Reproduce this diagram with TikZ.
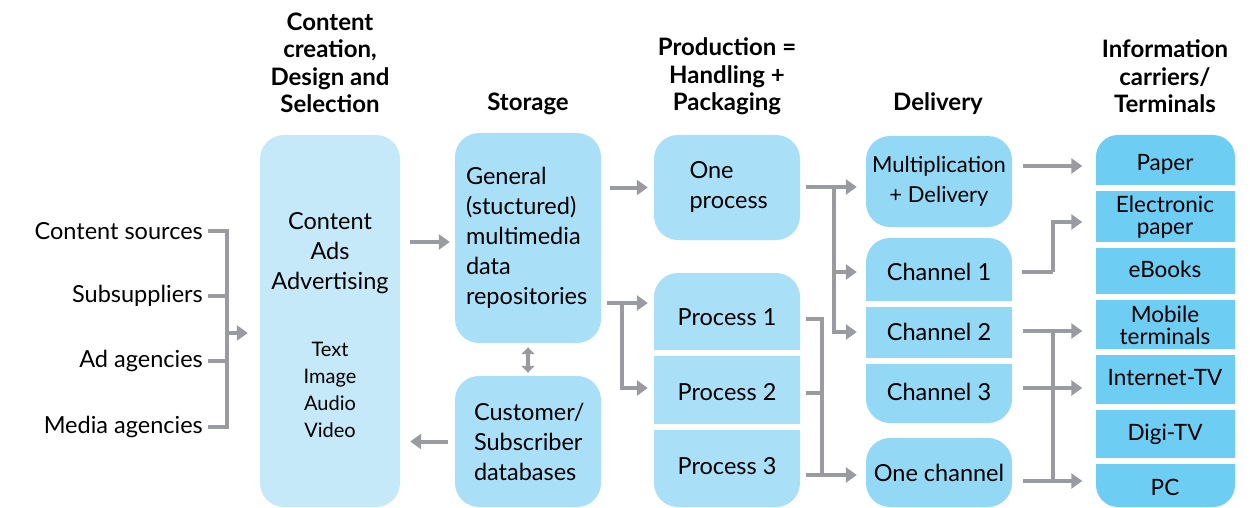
\documentclass[tikz,border=0pt]{standalone}
\usepackage{fontspec}
\setmainfont{Lato}
\usetikzlibrary{arrows.meta}

\definecolor{boxcreate}{RGB}{198,233,249}
\definecolor{boxstore}{RGB}{169,224,248}
\definecolor{boxdeliver}{RGB}{147,216,245}
\definecolor{boxterm}{RGB}{110,205,243}
\definecolor{flowgrey}{RGB}{153,155,160}

\tikzset{
  line/.style={draw=flowgrey, line width=4pt},
  arr/.style={line, -{Triangle[length=11pt,width=15pt]}},
  gap/.style={draw=white, line width=6pt},
  body/.style={inner sep=0pt, font=\fontsize{23.5}{30}\selectfont},
  box/.style={body, rounded corners=24pt, minimum width=146pt},
  seg/.style={body, minimum width=146pt},
  termtext/.style={body, minimum width=139pt, align=center, font=\fontsize{22.5}{22}\selectfont},
  head/.style={inner sep=0pt, align=center, font=\fontsize{24}{27.5}\selectfont\bfseries}
}

\begin{document}
\begin{tikzpicture}[x=1pt,y=-1pt]
\useasboundingbox (0,0) rectangle (1250,508);

% column heads
\node[head] (hcreate) at (330,63) {Content\\creation,\\Design and\\Selection};
\node[head] (hstore) at (528,104) {Storage};
\node[head] (hprod) at (727,76.5) {Production =\\Handling +\\Packaging};
\node[head] (hdeliver) at (938,104) {Delivery};
\node[head] (hterm) at (1165,76.5) {Information\\carriers/\\Terminals};

% sources
\node[body, anchor=east] (src1) at (203,231) {Content sources};
\node[body, anchor=east] (src2) at (203,296) {Subsuppliers};
\node[body, anchor=east] (src3) at (203,361) {Ad agencies};
\node[body, anchor=east] (src4) at (203,427) {Media agencies};

% content creation
\node[box, fill=boxcreate, minimum width=140pt, minimum height=372pt] (content) at (330,321) {};
\node[body, align=center] (ctop) at (330,253) {Content\\Ads\\Advertising};
\node[body, align=center, font=\fontsize{20}{27}\selectfont] (cbot) at (330,390) {Text\\Image\\Audio\\Video};

% storage
\node[box, fill=boxstore, minimum height=210pt, text width=124pt, align=left] (store) at (528,238)
  {General\\(stuctured)\\multimedia\\data\\repositories};
\node[box, fill=boxstore, minimum height=131pt, text width=108pt, align=left] (cust) at (528,441.5)
  {Customer/\\Subscriber\\databases};

% production
\node[box, fill=boxstore, minimum height=105pt, text width=75pt, align=left] (oneproc) at (727,187.5)
  {One\\process};
\fill[boxstore, rounded corners=24pt] (654,273) rectangle (800,507);
\draw[gap] (650,353) -- (804,353);
\draw[gap] (650,426.5) -- (804,426.5);
\node[seg] (p1) at (727,317) {Process 1};
\node[seg] (p2) at (727,392) {Process 2};
\node[seg] (p3) at (727,466) {Process 3};

% delivery
\node[box, fill=boxdeliver, minimum height=91pt, align=center, font=\fontsize{22}{30}\selectfont] (mult) at (939,181.5)
  {Multiplication\\+ Delivery};
\fill[boxdeliver, rounded corners=24pt] (866,238) rectangle (1012,423);
\draw[gap] (862,303.5) -- (1016,303.5);
\draw[gap] (862,361) -- (1016,361);
\node[seg] (ch1) at (939,272) {Channel 1};
\node[seg] (ch2) at (939,332) {Channel 2};
\node[seg] (ch3) at (939,392) {Channel 3};
\node[box, fill=boxdeliver, minimum height=69pt] (onech) at (939,472.5) {One channel};

% terminals
\fill[boxterm, rounded corners=22pt] (1096,135) rectangle (1235,507);
\foreach \y in {188,245,297,352,406.5,461}
  \draw[gap] (1092,\y) -- (1239,\y);
\node[termtext] (paper) at (1165,164) {Paper};
\node[termtext] (epaper) at (1165,217) {Electronic\\paper};
\node[termtext] (ebook) at (1165,269) {eBooks};
\node[termtext] (mobile) at (1165,325) {Mobile\\terminals};
\node[termtext] (itv) at (1165,378) {Internet-TV};
\node[termtext] (dtv) at (1165,434) {Digi-TV};
\node[termtext] (pc) at (1165,487) {PC};

% sources into content
\coordinate (srcbus) at (227,333);
\foreach \n in {src1,src2,src3,src4}
  \draw[line, shorten <=5pt] (\n.east) -| (srcbus);
\draw[arr, shorten >=12pt] (srcbus) -- (srcbus -| content.west);

% content <-> storage
\draw[arr, shorten <=10pt, shorten >=5pt] (content.east |- 0,242) -- (store.west |- 0,242);
\draw[line, line width=3.5pt, {Triangle[length=7pt,width=13pt]}-{Triangle[length=7pt,width=13pt]},
  shorten <=4pt, shorten >=3pt] (store.south) -- (cust.north);
\draw[arr, shorten <=7pt, shorten >=10pt] (cust.west) -- (cust.west -| content.east);

% storage into production
\draw[arr, shorten <=9pt, shorten >=6pt] (store.east |- oneproc.west) -- (oneproc.west);
\coordinate (sp) at (622,303);
\draw[arr, shorten <=6pt, shorten >=6pt] (store.east |- sp) -- (sp -| p1.west);
\draw[arr, shorten >=6pt] (sp) |- (p2.west |- 0,388);

% production into delivery
\coordinate (ob) at (834,187);
\draw[line, shorten <=6pt] (oneproc.east |- ob) -- (ob);
\draw[arr, shorten >=9pt] (ob) -- (ob -| mult.west);
\draw[arr, shorten >=9pt] (ob) |- (ch1.west);
\draw[arr, shorten >=9pt] (ob) |- (ch2.west);
\coordinate (pb) at (822,475);
\foreach \p/\y in {p1/319,p2/393,p3/475}
  \draw[line, shorten <=6pt] (\p.east |- 0,\y) -| (pb);
\draw[arr, shorten >=9pt] (pb) -- (pb -| onech.west);

% delivery into terminals
\coordinate (eb) at (1053,272);
\draw[arr, shorten <=11pt, shorten >=13pt] (mult.east |- 0,166) -- (paper.west |- 0,166);
\draw[line, shorten <=10pt] (ch1.east) -- (eb);
\draw[arr, shorten >=13pt] (eb) |- (epaper.west |- 0,222);
\draw[arr, shorten <=11pt, shorten >=13pt] (ch2.east |- 0,331) -- (mobile.west |- 0,331);
\draw[arr, shorten <=11pt, shorten >=13pt] (ch3.east |- 0,388) -- (itv.west |- 0,388);
\draw[arr, shorten <=11pt, shorten >=13pt] (onech.east |- 0,481) -- (pc.west |- 0,481);
\draw[line] (eb |- 0,331) -- (eb |- 0,481);
\end{tikzpicture}
\end{document}
